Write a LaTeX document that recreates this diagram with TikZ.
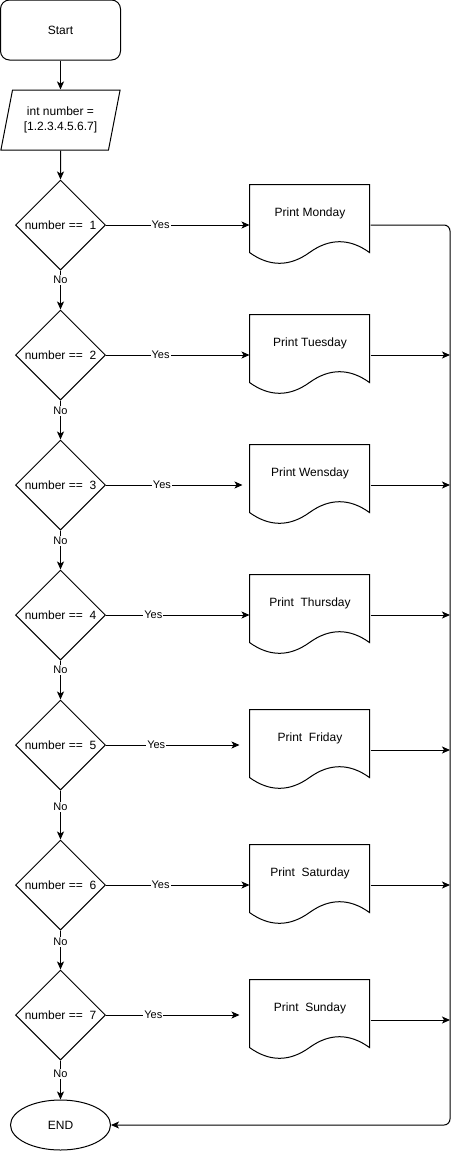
\documentclass[tikz,border=0pt]{standalone}
\usepackage{fontspec}
\setmainfont{Liberation Sans}
\usetikzlibrary{shapes.geometric,arrows.meta}

% outline of a print (document) box, drawn round a named node
\newcommand{\docoutline}[1]{%
	\draw[shift={(#1.north west)}] (0,0) -- (120,0) -- (120,68)
		.. controls (100,53.6) and (80,53.6) .. (60,68)
		.. controls (40,82.4) and (20,82.4) .. (0,68) -- cycle;}

\begin{document}
\begin{tikzpicture}[x=1pt, y=-1pt, line width=1pt,
	>={Stealth[length=8pt,width=7pt,inset=2pt]},
	every node/.style={font=\fontsize{12}{15.5}\selectfont},
	startstop/.style={draw, rounded corners=9, minimum width=120, minimum height=60},
	io/.style={draw, trapezium, trapezium left angle=71.57, trapezium right angle=108.43, trapezium stretches=true, minimum width=120, minimum height=60, inner sep=0, align=center},
	decision/.style={draw, diamond, aspect=1, minimum width=90, minimum height=90, inner sep=0},
	printdoc/.style={minimum width=120, minimum height=80, inner sep=0, text height=9, text depth=26.4},
	terminal/.style={draw, ellipse, minimum width=100, minimum height=50, inner sep=0},
	lbl/.style={fill=white, inner sep=1pt, font=\fontsize{11}{13}\selectfont}]

		\useasboundingbox (0,0) rectangle (459,1151);

		\node[startstop] (start) at (60.5,30) {Start};
		\node[io] (input) at (60.5,120) {int number =\\{}[1.2.3.4.5.6.7]};

		\node[decision] (check1) at (60.5,225) {number ==\ \ 1};
		\node[decision] (check2) at (60.5,355) {number ==\ \ 2};
		\node[decision] (check3) at (60.5,485) {number ==\ \ 3};
		\node[decision] (check4) at (60.5,615) {number ==\ \ 4};
		\node[decision] (check5) at (60.5,745) {number ==\ \ 5};
		\node[decision] (check6) at (60.5,885) {number ==\ \ 6};
		\node[decision] (check7) at (60.5,1015) {number ==\ \ 7};

		\node[terminal] (end) at (60.5,1125) {END};

		\node[printdoc] (monday) at (310,225) {Print Monday};
		\node[printdoc] (tuesday) at (310,355) {Print Tuesday};
		\node[printdoc] (wensday) at (310,485) {Print Wensday};
		\node[printdoc] (thursday) at (310,615) {Print\ \ Thursday};
		\node[printdoc] (friday) at (310,750) {Print\ \ Friday};
		\node[printdoc] (saturday) at (310,885) {Print\ \ Saturday};
		\node[printdoc] (sunday) at (310,1020) {Print\ \ Sunday};
		\docoutline{monday}
		\docoutline{tuesday}
		\docoutline{wensday}
		\docoutline{thursday}
		\docoutline{friday}
		\docoutline{saturday}
		\docoutline{sunday}

		\coordinate (busbottom) at (450,1125);

		\draw[->] (start) -- (input);
		\draw[->] (input) -- (check1);

		\draw[->] (check1) -- node[lbl, pos=0.25] (no1) {No} (check2);
		\draw[->] (check2) -- node[lbl, pos=0.27] (no2) {No} (check3);
		\draw[->] (check3) -- node[lbl, pos=0.27] (no3) {No} (check4);
		\draw[->] (check4) -- node[lbl, pos=0.25] (no4) {No} (check5);
		\draw[->] (check5) -- node[lbl, pos=0.34] (no5) {No} (check6);
		\draw[->] (check6) -- node[lbl, pos=0.3] (no6) {No} (check7);
		\draw[->] (check7) -- node[lbl, pos=0.35] (no7) {No} (end);

		\draw[->] (check1) -- node[lbl, pos=0.38] (yes1) {Yes} (check1 -| monday.west);
		\draw[->] (check2) -- node[lbl, pos=0.38] (yes2) {Yes} (check2 -| tuesday.west);
		\draw[->, shorten >=7pt] (check3) -- node[lbl, pos=0.39] (yes3) {Yes} (check3 -| wensday.west);
		\draw[->] (check4) -- node[lbl, pos=0.33] (yes4) {Yes} (check4 -| thursday.west);
		\draw[->, shorten >=10pt] (check5) -- node[lbl, pos=0.35] (yes5) {Yes} (check5 -| friday.west);
		\draw[->] (check6) -- node[lbl, pos=0.38] (yes6) {Yes} (check6 -| saturday.west);
		\draw[->, shorten >=10pt] (check7) -- node[lbl, pos=0.33] (yes7) {Yes} (check7 -| sunday.west);

		\draw[->, rounded corners=6] (monday.east) -| (busbottom) -- (end);
		\draw[->] (tuesday.east) -- (tuesday.east -| busbottom);
		\draw[->] (wensday.east) -- (wensday.east -| busbottom);
		\draw[->] (thursday.east) -- (thursday.east -| busbottom);
		\draw[->] (friday.east) -- (friday.east -| busbottom);
		\draw[->] (saturday.east) -- (saturday.east -| busbottom);
		\draw[->] (sunday.east) -- (sunday.east -| busbottom);

	\end{tikzpicture}
\end{document}
